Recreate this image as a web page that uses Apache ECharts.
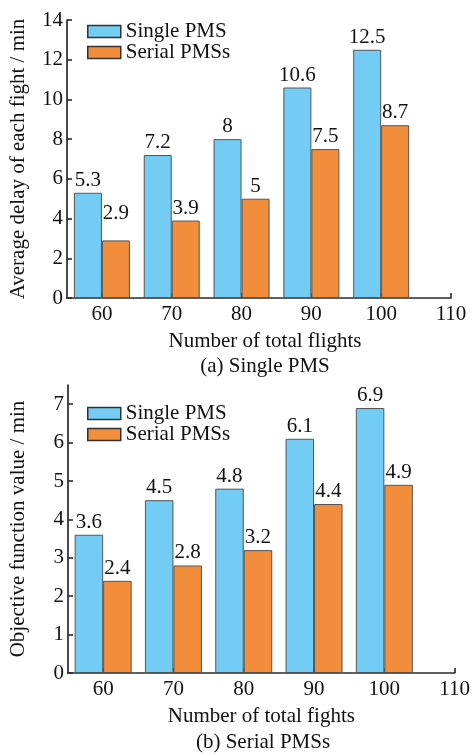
<!DOCTYPE html>
<html>
<head>
<meta charset="utf-8">
<script src="https://cdn.jsdelivr.net/npm/echarts@6/dist/echarts.min.js"></script>
<style>html,body{margin:0;padding:0;background:#fff;}#c{width:473px;height:755px;}</style>
</head>
<body>
<div id="c"></div>
<script>
var flights = [60, 70, 80, 90, 100];
var xTicks = [60, 70, 80, 90, 100, 110];
var delaySingle = [5.3, 7.2, 8, 10.6, 12.5];
var delaySerial = [2.9, 3.9, 5, 7.5, 8.7];
var objSingle = [3.6, 4.5, 4.8, 6.1, 6.9];
var objSerial = [2.4, 2.8, 3.2, 4.4, 4.9];
var seriesNames = ['Single PMS', 'Serial PMSs'];
var captions = ['(a) Single PMS', '(b) Serial PMSs'];
var yNames = ['Average delay of each fight / min', 'Objective function value / min'];
var xNames = ['Number of total flights', 'Number of total fights'];

var FONT = "'Liberation Serif', serif";
var FS = 21;
var BLUE = '#72CCF4';
var ORANGE = '#F28D3B';
var AX = '#2a2a2a';

function pairs(vals) { return flights.map(function (f, i) { return [f, vals[i]]; }); }
function ts(extra) { var o = { fontFamily: FONT, fontSize: FS, color: '#111' }; for (var k in extra) o[k] = extra[k]; return o; }

function xAxis(gi, name, pad) {
  return {
    type: 'value', gridIndex: gi, min: 55, max: 110,
    name: name, nameLocation: 'middle', nameGap: 33,
    nameTextStyle: ts({ padding: pad }),
    axisLine: { show: true, lineStyle: { color: AX, width: 1.7 } },
    axisTick: { show: true, inside: true, length: 5, lineStyle: { color: AX, width: 1.6 }, customValues: xTicks },
    axisLabel: ts({ margin: 6, customValues: xTicks }),
    splitLine: { show: false }
  };
}
function yAxis(gi, name, max, interval, gap, showMax) {
  return {
    type: 'value', gridIndex: gi, min: 0, max: max, interval: interval,
    name: name, nameLocation: 'middle', nameGap: gap, nameRotate: 90,
    nameTextStyle: ts({}),
    axisLine: { show: true, lineStyle: { color: AX, width: 1.7 } },
    axisTick: { show: true, inside: true, length: 5, lineStyle: { color: AX, width: 1.6 } },
    axisLabel: ts({ margin: 4, showMaxLabel: showMax }),
    splitLine: { show: false }
  };
}
function barSeries(name, vals, gi, color, bw, tweak) {
  var d = pairs(vals).map(function (p, i) {
    if (tweak && tweak[i]) return { value: p, label: { offset: tweak[i] } };
    return p;
  });
  return {
    name: name, type: 'bar', xAxisIndex: gi, yAxisIndex: gi,
    data: d, barWidth: bw, barGap: '0%',
    itemStyle: { color: color, borderColor: '#555', borderWidth: 1 },
    label: ts({ show: true, position: 'top', distance: 2,
      formatter: function (p) { return String(p.value[1]); } }),
    emphasis: { disabled: true },
    animation: false
  };
}
function legend(top) {
  return {
    left: 82, top: top, orient: 'vertical', itemWidth: 33, itemHeight: 12, itemGap: 0,
    data: seriesNames, icon: 'rect',
    itemStyle: { borderColor: '#333', borderWidth: 1.5 },
    textStyle: ts({})
  };
}

var chart = echarts.init(document.getElementById('c'), null, { renderer: 'canvas' });
chart.setOption({
  animation: false,
  textStyle: { fontFamily: FONT, fontSize: FS, color: '#111' },
  grid: [
    { left: 66, top: 20, width: 385, height: 278 },
    { left: 67, top: 385, width: 393, height: 288 }
  ],
  legend: [legend(16), legend(398)],
  xAxis: [xAxis(0, xNames[0], [0, 0, 0, 12]), xAxis(1, xNames[1], 0)],
  yAxis: [yAxis(0, yNames[0], 14, 2, 38, true), yAxis(1, yNames[1], 7.5, 1, 39, false)],
  series: [
    barSeries(seriesNames[0], delaySingle, 0, BLUE, 28),
    barSeries(seriesNames[1], delaySerial, 0, ORANGE, 28, [[0, -14]]),
    barSeries(seriesNames[0], objSingle, 1, BLUE, 28.5),
    barSeries(seriesNames[1], objSerial, 1, ORANGE, 28.5)
  ],
  graphic: [
    { type: 'text', x: 265, y: 366, style: { text: captions[0], fontFamily: FONT, fontSize: FS, fill: '#111', align: 'center', verticalAlign: 'middle' } },
    { type: 'text', x: 263, y: 742, style: { text: captions[1], fontFamily: FONT, fontSize: FS, fill: '#111', align: 'center', verticalAlign: 'middle' } }
  ]
});
</script>
</body>
</html>
